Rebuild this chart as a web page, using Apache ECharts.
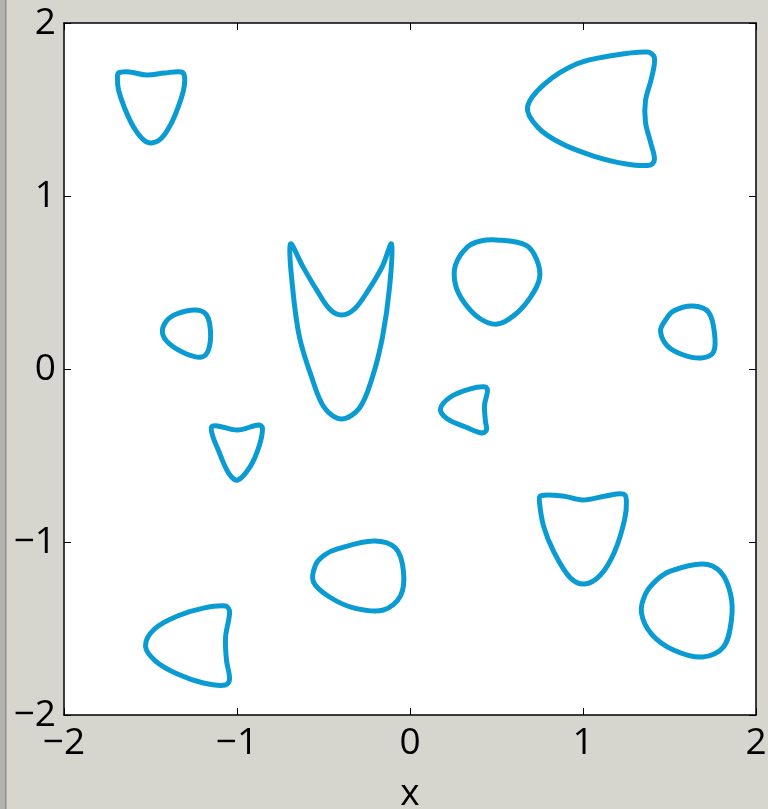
<!DOCTYPE html>
<html>
<head>
<meta charset="utf-8">
<script src="https://cdn.jsdelivr.net/npm/echarts@6/dist/echarts.min.js"></script>
<style>
  html, body { margin: 0; padding: 0; }
  body { background: #d6d6cf; }
  #chart { width: 768px; height: 809px; }
</style>
</head>
<body>
<div id="chart"></div>
<script>
// Tick values shared by both axes
const tickValues = [-2, -1, 0, 1, 2];

// Closed level curves, each a loop of [x, y] points
const curveTopLeft = [
  [-1.685, 1.711], [-1.621, 1.717], [-1.523, 1.699], [-1.419, 1.711], [-1.321, 1.717],
  [-1.303, 1.688], [-1.309, 1.613], [-1.338, 1.520], [-1.379, 1.422], [-1.436, 1.335],
  [-1.494, 1.306], [-1.540, 1.324], [-1.598, 1.399], [-1.650, 1.509], [-1.685, 1.613],
  [-1.691, 1.676]
];
const curveTopRight = [
  [0.679, 1.514], [0.777, 1.647], [0.962, 1.763], [1.153, 1.809], [1.373, 1.832],
  [1.413, 1.798], [1.396, 1.682], [1.361, 1.549], [1.361, 1.428], [1.390, 1.312],
  [1.413, 1.214], [1.390, 1.179], [1.251, 1.185], [1.061, 1.231], [0.870, 1.306],
  [0.737, 1.399]
];
const curveV = [
  [-0.691, 0.723], [-0.621, 0.595], [-0.540, 0.457], [-0.465, 0.347], [-0.396, 0.312],
  [-0.321, 0.347], [-0.240, 0.457], [-0.159, 0.595], [-0.107, 0.723], [-0.118, 0.474],
  [-0.159, 0.185], [-0.217, -0.046], [-0.292, -0.225], [-0.396, -0.289], [-0.494, -0.225],
  [-0.569, -0.046], [-0.639, 0.185], [-0.679, 0.474]
];
const curveRound = [
  [0.500, 0.746], [0.668, 0.717], [0.731, 0.636], [0.749, 0.526], [0.697, 0.416],
  [0.604, 0.312], [0.506, 0.260], [0.408, 0.289], [0.315, 0.382], [0.263, 0.486],
  [0.263, 0.601], [0.332, 0.705], [0.408, 0.740]
];
const curveSmallTri = [
  [0.176, -0.231], [0.234, -0.162], [0.344, -0.116], [0.436, -0.104], [0.448, -0.127],
  [0.431, -0.208], [0.436, -0.301], [0.442, -0.353], [0.413, -0.370], [0.321, -0.335],
  [0.217, -0.289]
];
const curveLeftBlob = [
  [-1.350, 0.318], [-1.240, 0.341], [-1.176, 0.312], [-1.153, 0.214], [-1.165, 0.110],
  [-1.205, 0.069], [-1.292, 0.087], [-1.390, 0.145], [-1.431, 0.208], [-1.408, 0.277]
];
const curveLeftShield = [
  [-1.147, -0.335], [-1.113, -0.329], [-0.997, -0.353], [-0.876, -0.324], [-0.853, -0.341],
  [-0.870, -0.439], [-0.922, -0.561], [-0.997, -0.642], [-1.049, -0.601], [-1.113, -0.457],
  [-1.142, -0.382]
];
const curveRightBlob = [
  [1.523, 0.335], [1.633, 0.364], [1.725, 0.329], [1.760, 0.208], [1.754, 0.098],
  [1.685, 0.064], [1.581, 0.081], [1.488, 0.133], [1.448, 0.220], [1.477, 0.283]
];
const curveRightShield = [
  [0.754, -0.734], [0.882, -0.734], [0.997, -0.757], [1.130, -0.734], [1.234, -0.723],
  [1.251, -0.763], [1.240, -0.873], [1.182, -1.058], [1.101, -1.191], [1.009, -1.243],
  [0.922, -1.202], [0.829, -1.052], [0.772, -0.908], [0.749, -0.775]
];
const curveLowerRight = [
  [1.506, -1.168], [1.691, -1.127], [1.795, -1.173], [1.853, -1.301], [1.858, -1.451],
  [1.812, -1.607], [1.691, -1.665], [1.523, -1.624], [1.396, -1.532], [1.338, -1.410],
  [1.361, -1.301], [1.425, -1.220]
];
const curveLowerMiddle = [
  [-0.419, -1.040], [-0.211, -0.994], [-0.084, -1.035], [-0.038, -1.168], [-0.055, -1.312],
  [-0.153, -1.393], [-0.321, -1.382], [-0.465, -1.318], [-0.558, -1.231], [-0.546, -1.133],
  [-0.494, -1.075]
];
const curveLowerLeft = [
  [-1.477, -1.503], [-1.344, -1.428], [-1.194, -1.382], [-1.066, -1.370], [-1.043, -1.405],
  [-1.066, -1.549], [-1.061, -1.682], [-1.043, -1.792], [-1.066, -1.827], [-1.194, -1.815],
  [-1.344, -1.763], [-1.471, -1.688], [-1.529, -1.601]
];

const curves = [
  curveTopLeft, curveTopRight, curveV, curveRound, curveSmallTri, curveLeftBlob,
  curveLeftShield, curveRightBlob, curveRightShield, curveLowerRight, curveLowerMiddle,
  curveLowerLeft
];

const lineColor = '#0a9bd3';
const fontFamily = '"Open Sans", "DejaVu Sans", sans-serif';
const fmt = v => (v < 0 ? '\u2212' + Math.abs(v) : String(v));

const chart = echarts.init(document.getElementById('chart'), null, { renderer: 'canvas' });

const axisCommon = {
  type: 'value',
  min: tickValues[0],
  max: tickValues[tickValues.length - 1],
  interval: 1,
  splitLine: { show: false },
  axisLine: { show: true, onZero: false, lineStyle: { color: '#000', width: 1.5 } },
  axisTick: { show: true, inside: true, length: 7, lineStyle: { color: '#000', width: 1 } }
};

chart.setOption({
  backgroundColor: 'transparent',
  animation: false,
  graphic: [
    { type: 'rect', shape: { x: 0, y: 0, width: 5, height: 809 }, style: { fill: '#b4b4ae' }, silent: true },
    { type: 'rect', shape: { x: 5, y: 0, width: 1.5, height: 809 }, style: { fill: '#8e8e8a' }, silent: true }
  ],
  grid: {
    left: 64, top: 23, width: 692, height: 692,
    containLabel: false,
    outerBoundsMode: 'none',
    show: true, backgroundColor: '#ffffff', borderWidth: 0
  },
  xAxis: [
    Object.assign({}, axisCommon, {
      position: 'bottom',
      name: 'x',
      nameLocation: 'middle',
      nameGap: 61,
      nameTextStyle: { color: '#000', fontSize: 37, fontFamily },
      axisLabel: { show: true, color: '#000', fontSize: 37, fontFamily, margin: 10, formatter: fmt }
    }),
    Object.assign({}, axisCommon, { position: 'top', axisLabel: { show: false } })
  ],
  yAxis: [
    Object.assign({}, axisCommon, {
      position: 'left',
      axisLabel: { show: true, color: '#000', fontSize: 37, fontFamily, margin: 8, formatter: fmt }
    }),
    Object.assign({}, axisCommon, { position: 'right', axisLabel: { show: false } })
  ],
  series: curves.map(pts => ({
    type: 'custom',
    coordinateSystem: 'cartesian2d',
    xAxisIndex: 0,
    yAxisIndex: 0,
    data: pts,
    renderItem: (params, api) => {
      if (params.dataIndex !== 0) return null;
      const points = pts.map(p => api.coord(p));
      return {
        type: 'polygon',
        shape: { points, smooth: 0.35 },
        style: { fill: null, stroke: lineColor, lineWidth: 5, lineJoin: 'round' }
      };
    }
  }))
});
</script>
</body>
</html>
